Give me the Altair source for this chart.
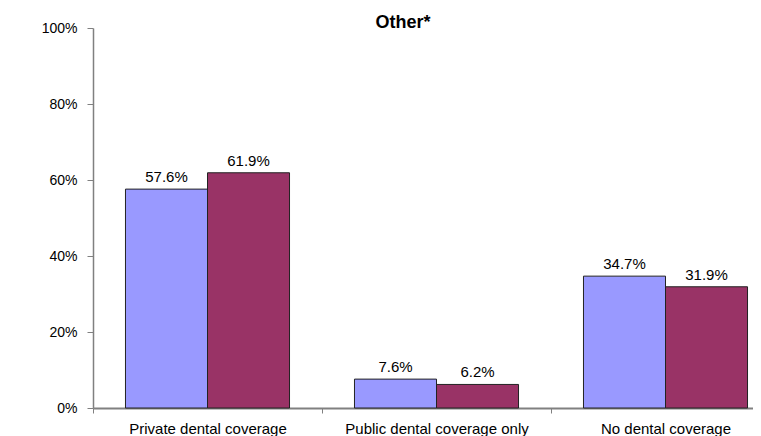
import altair as alt
import pandas as pd

categories = ["Private dental coverage", "Public dental coverage only", "No dental coverage"]
series = ["Series A", "Series B"]
values_a = [57.6, 7.6, 34.7]
values_b = [61.9, 6.2, 31.9]
y_ticks = [0, 20, 40, 60, 80, 100]
colors = ["#9999FF", "#993366"]

rows = []
for c, a, b in zip(categories, values_a, values_b):
    rows.append({"category": c, "series": series[0], "value": a})
    rows.append({"category": c, "series": series[1], "value": b})
df = pd.DataFrame(rows)
df["label"] = df["value"].map(lambda v: f"{v:.1f}%")

FONT = "Liberation Sans"

x_enc = alt.X(
    "category:N",
    sort=categories,
    scale=alt.Scale(range=[0, 687], paddingInner=0, paddingOuter=0),
    axis=alt.Axis(
        title=None,
        labelAngle=0,
        labelFontSize=15,
        labelFont=FONT,
        labelColor="#000000",
        labelPadding=8,
        labelLimit=0,
        tickBand="extent",
        tickSize=5,
        tickColor="#808080",
        tickWidth=1,
        domainColor="#808080",
        domainWidth=2,
        grid=False,
    ),
)
xoff = alt.XOffset(
    "series:N",
    sort=series,
    scale=alt.Scale(paddingInner=0, paddingOuter=0.396),
)
y_enc = alt.Y(
    "value:Q",
    scale=alt.Scale(domain=[0, 100], nice=False),
    axis=alt.Axis(
        title=None,
        values=y_ticks,
        labelExpr="datum.value + '%'",
        labelFontSize=14,
        labelFont=FONT,
        labelColor="#000000",
        labelPadding=10,
        tickSize=6,
        tickColor="#808080",
        domainColor="#808080",
        domainWidth=1.5,
        grid=False,
    ),
)

bars = alt.Chart(df).mark_bar(stroke="#222222", strokeWidth=1).encode(
    x=x_enc,
    xOffset=xoff,
    y=y_enc,
    color=alt.Color("series:N", sort=series, scale=alt.Scale(domain=series, range=colors), legend=None),
)

labels = alt.Chart(df).mark_text(
    dy=-7, baseline="alphabetic", align="center", fontSize=15, font=FONT, color="#000000"
).encode(
    x=alt.X("category:N", sort=categories),
    xOffset=alt.XOffset("series:N", sort=series),
    y=alt.Y("value:Q"),
    text="label:N",
)

chart = (
    alt.layer(bars, labels)
    .properties(
        width=660,
        height=380,
        autosize=alt.AutoSizeParams(type="none"),
        padding={"left": 85, "top": 20, "right": 0, "bottom": 28},
        title=alt.Title(
            "Other*",
            fontSize=18,
            font=FONT,
            fontWeight="bold",
            color="#000000",
            anchor="middle",
            frame="group",
            dx=-20,
            dy=27,
            offset=2,
            baseline="alphabetic",
        ),
    )
    .configure_view(stroke=None)
)

chart.save("out.html", embed_options={"renderer": "svg", "actions": False})
